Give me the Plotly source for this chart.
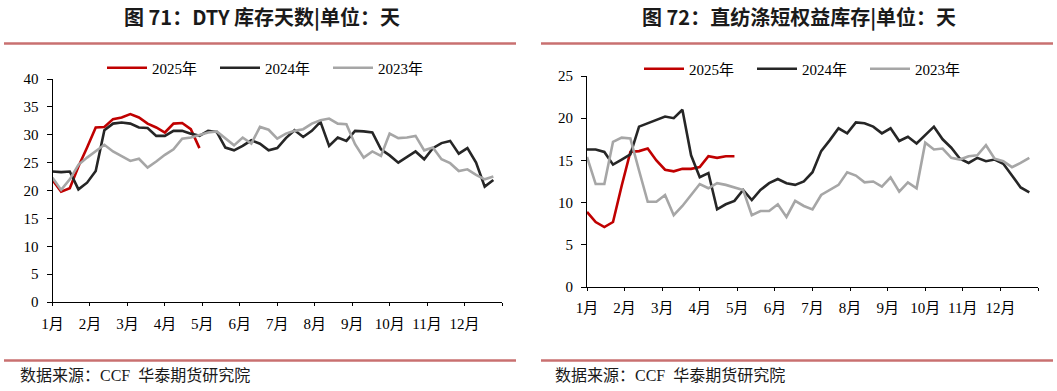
import plotly.graph_objects as go

# ---------------- data ----------------
months = ["1月", "2月", "3月", "4月", "5月", "6月", "7月", "8月", "9月", "10月", "11月", "12月"]
series_names = ["2025年", "2024年", "2023年"]

# Figure 71: DTY inventory days (weekly)
dty_2025 = [21.9, 19.8, 20.4, 24.3, 27.7, 31.3, 31.4, 32.8, 33.1, 33.7, 33.1, 32.0, 31.3, 30.4,
            32.0, 32.1, 31.0, 27.6]
dty_2024 = [23.4, 23.3, 23.4, 20.2, 21.4, 23.5, 30.8, 32.0, 32.2, 32.0, 31.3, 31.2, 29.8, 29.8,
            30.7, 30.7, 30.2, 29.8, 30.7, 30.5, 27.7, 27.2, 28.0, 29.0, 28.4, 27.2, 27.6, 29.4,
            30.8, 29.6, 30.7, 32.3, 28.0, 29.5, 28.9, 30.7, 30.6, 30.4, 27.4, 26.3, 25.0, 26.0,
            27.0, 25.6, 27.6, 28.5, 28.9, 26.6, 27.6, 25.0, 20.7, 21.9]
dty_2023 = [22.3, 20.1, 22.0, 24.6, 25.9, 27.1, 28.2, 27.0, 26.2, 25.3, 25.7, 24.1, 25.2, 26.4,
            27.4, 29.3, 29.5, 30.0, 30.4, 30.6, 29.4, 28.1, 29.5, 28.4, 31.4, 30.9, 29.3, 30.2,
            30.7, 31.0, 32.0, 32.6, 32.9, 32.0, 31.9, 28.3, 25.9, 27.0, 26.2, 30.2, 29.4, 29.5,
            29.8, 27.2, 27.7, 25.6, 24.9, 23.5, 23.8, 22.8, 22.0, 22.5]

# Figure 72: direct-spun PSF equity inventory days (weekly)
psf_2025 = [8.9, 7.7, 7.1, 7.7, 12.0, 16.0, 16.1, 16.4, 15.0, 13.9, 13.7, 14.0, 14.0, 14.2,
            15.5, 15.3, 15.5, 15.5]
psf_2024 = [16.3, 16.3, 16.0, 14.5, 15.1, 15.7, 19.0, 19.4, 19.8, 20.2, 20.0, 21.0, 15.6, 13.0,
            13.5, 9.2, 9.8, 10.2, 11.5, 10.3, 11.5, 12.3, 12.8, 12.3, 12.1, 12.5, 13.6, 16.1,
            17.4, 18.8, 18.2, 19.5, 19.4, 19.0, 18.2, 18.8, 17.3, 17.8, 17.0, 18.0, 19.0, 17.5,
            16.5, 15.2, 14.7, 15.3, 14.9, 15.1, 14.6, 13.2, 11.8, 11.2]
psf_2023 = [15.4, 12.2, 12.2, 17.2, 17.7, 17.6, 13.8, 10.1, 10.1, 10.9, 8.5, 9.6, 10.9, 12.2,
            11.7, 12.3, 12.1, 11.8, 11.5, 8.5, 9.0, 9.0, 9.8, 8.3, 10.2, 9.6, 9.2, 10.9,
            11.5, 12.1, 13.6, 13.2, 12.4, 12.5, 11.9, 13.0, 11.3, 12.4, 11.7, 17.1, 16.3, 16.4,
            15.3, 15.1, 15.5, 15.6, 16.8, 15.2, 14.9, 14.2, 14.7, 15.3]

titles = ["图 71：DTY 库存天数|单位：天", "图 72：直纺涤短权益库存|单位：天"]
source_text = "数据来源：CCF  华泰期货研究院"

# ---------------- style ----------------
W, H = 1057, 391
colors = ["#C00000", "#262626", "#A6A6A6"]
serif = "Liberation Serif, Times New Roman, Noto Sans CJK SC, serif"
cjk_bold = "Noto Sans CJK SC, sans-serif"
rule_color = "#C97070"


def week_x(values):
    # weekly points placed on a month scale (52 weeks over 12 months)
    return [i * 12 / 52 for i in range(len(values))]


fig = go.Figure()

panels = [
    dict(xa="x", ya="y", leg="legend", data=[dty_2025, dty_2024, dty_2023]),
    dict(xa="x2", ya="y2", leg="legend2", data=[psf_2025, psf_2024, psf_2023]),
]
for p in panels:
    for name, vals, c in zip(series_names, p["data"], colors):
        fig.add_trace(go.Scatter(
            x=week_x(vals), y=vals, name=name, mode="lines",
            line=dict(color=c, width=2.6), xaxis=p["xa"], yaxis=p["ya"],
            legend=p["leg"], hoverinfo="skip"))


def px_x(v):
    return v / W


def px_y(v):
    return 1 - v / H


axis_common = dict(
    showgrid=False, zeroline=False, showline=True, linecolor="black", linewidth=1,
    ticks="outside", tickcolor="black", tickwidth=1, automargin=False,
    tickfont=dict(family=serif, size=15, color="black"),
)

xt = list(range(13))
xtext = months + [""]

fig.update_layout(
    template="none",
    width=W, height=H, margin=dict(l=0, r=0, t=0, b=0, pad=0, autoexpand=False),
    paper_bgcolor="white", plot_bgcolor="white", showlegend=True,
    xaxis=dict(domain=[px_x(52.5), px_x(502)], range=[0, 12], tickvals=xt, ticktext=xtext,
               ticklen=3, ticklabelstandoff=5, anchor="y", **axis_common),
    yaxis=dict(domain=[px_y(302), px_y(79)], range=[0, 40], dtick=5, ticklen=5,
               ticklabelstandoff=5, anchor="x", **axis_common),
    xaxis2=dict(domain=[px_x(587), px_x(1038)], range=[0, 12], tickvals=xt, ticktext=xtext,
                ticklen=3, ticklabelstandoff=4, anchor="y2", **axis_common),
    yaxis2=dict(domain=[px_y(287), px_y(76)], range=[0, 25], dtick=5, ticklen=5,
                ticklabelstandoff=5, anchor="x2", **axis_common),
    legend=dict(orientation="h", x=px_x(102), y=px_y(68), xanchor="left", yanchor="middle",
                font=dict(family=serif, size=15, color="black"), itemwidth=40,
                entrywidth=58, bgcolor="rgba(0,0,0,0)", borderwidth=0),
    legend2=dict(orientation="h", x=px_x(639), y=px_y(69), xanchor="left", yanchor="middle",
                 font=dict(family=serif, size=15, color="black"), itemwidth=40,
                 entrywidth=58, bgcolor="rgba(0,0,0,0)", borderwidth=0),
)

# titles, rules and source notes
for cx, t in zip([262, 799], titles):
    fig.add_annotation(text="<b>" + t + "</b>", x=px_x(cx), y=px_y(16), xref="paper", yref="paper",
                       showarrow=False, xanchor="center", yanchor="middle",
                       font=dict(family=cjk_bold, size=20, color="#1a1a1a"))
for x0, x1 in [(4, 516), (541, 1053)]:
    for yy in (43.5, 360.5):
        fig.add_shape(type="line", xref="paper", yref="paper", x0=px_x(x0), x1=px_x(x1),
                      y0=px_y(yy), y1=px_y(yy), line=dict(color=rule_color, width=2.5))
for sx in (18, 553):
    fig.add_annotation(text=source_text, x=px_x(sx), y=px_y(375), xref="paper", yref="paper",
                       showarrow=False, xanchor="left", yanchor="middle",
                       font=dict(family=serif, size=16, color="#1a1a1a"))

fig.write_html("out.html", config={"displayModeBar": False},
               post_script="document.body.style.margin='0';document.body.style.overflow='hidden';")
